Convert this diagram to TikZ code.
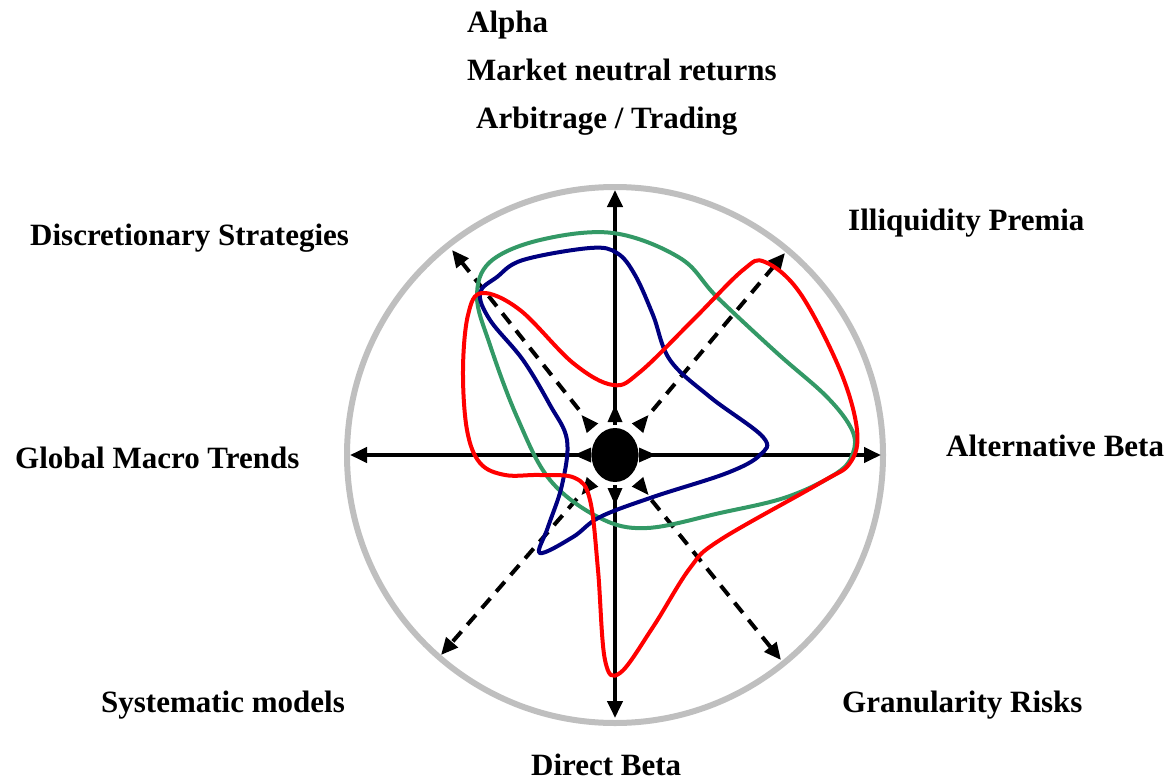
\documentclass[tikz,border=0pt]{standalone}
\usepackage{fontspec}
\setmainfont{Liberation Serif}
\usetikzlibrary{calc,arrows.meta}
\definecolor{ringgray}{RGB}{191,191,191}
\definecolor{stratgreen}{RGB}{51,153,102}
\definecolor{stratblue}{RGB}{0,0,128}
\definecolor{stratred}{RGB}{255,0,0}
\tikzset{
	axisarrow/.style={line width=4pt,-{Triangle[length=17pt,width=15pt]}},
	diagarrow/.style={axisarrow,dash pattern=on 13pt off 9pt},
	stratline/.style={line width=4pt},
	lbl/.style={font=\fontsize{31}{37}\selectfont\bfseries,anchor=base west,inner sep=0pt}
}

\begin{document}
\begin{tikzpicture}[x=1pt,y=-1pt]
		%%%%% START %%%%%
		\useasboundingbox (0,0) rectangle (1168,782);
		
		\coordinate (c) at (615,455);
		\coordinate (top) at (615,190);
		\coordinate (bottom) at (615,718);
		\coordinate (left) at (350,455);
		\coordinate (right) at (881,455);
		\coordinate (tl) at (452,250);
		\coordinate (tr) at (785,253);
		\coordinate (bl) at (441,655);
		\coordinate (br) at (781,660);
		
		\draw[ringgray, line width=6pt] (c) circle (268pt);
		
		\draw[axisarrow] (c) -- (top);
		\draw[axisarrow] (c) -- (bottom);
		\draw[axisarrow] (c) -- (left);
		\draw[axisarrow] (c) -- (right);
		
		\draw[diagarrow] ($(c)!58pt!(tl)$) -- (tl);
		\draw[diagarrow] ($(c)!58pt!(tr)$) -- (tr);
		\draw[diagarrow] ($(c)!58pt!(bl)$) -- (bl);
		\draw[diagarrow] ($(c)!58pt!(br)$) -- (br);
		
		% centre burst
		\draw[white, line width=3pt] (c) ellipse (25pt and 28.5pt);
		\fill (c) ellipse (23.5pt and 27pt);
		\foreach \a/\rb/\rt in {0/24/41, 50/35/52, 90/33/50, 130/35/52, 180/24/41, 230/35/52, 270/33/50, 310/35/52}
			\fill ($(c)+(\a:\rt pt)$) -- ($(c)+(\a:\rb pt)+(\a+90:7.5pt)$) -- ($(c)+(\a:\rb pt)+(\a-90:7.5pt)$) -- cycle;
		
		\draw[stratline, stratgreen] plot[smooth cycle, tension=0.6] coordinates {(613,233) (680,258) (717,297) (777,353) (827,397) (852,430) (853,453) (837,473) (787,497) (720,513) (647,528) (600,518) (550,480) (517,417) (490,345) (477,297) (490,262) (540,240)};
		
		\draw[stratline, stratblue] plot[smooth cycle, tension=0.6] coordinates {(480,293) (497,277) (523,260) (590,248) (617,253) (635,275) (653,315) (670,360) (710,397) (763,437) (760,455) (727,473) (653,497) (600,517) (573,537) (540,553) (548,527) (562,485) (567,440) (550,405) (523,360) (490,320)};
		
		\draw[stratline, stratred] plot[smooth cycle, tension=0.6] coordinates {(482,293) (520,310) (573,363) (613,385) (640,372) (693,320) (743,270) (765,262) (800,293) (840,370) (857,430) (850,463) (820,483) (720,540) (690,568) (653,627) (620,673) (605,660) (598,570) (590,500) (575,478) (540,475) (505,475) (480,463) (467,430) (463,370) (468,315)};
		
		\node[lbl] (alpha) at (467,32) {Alpha};
		\node[lbl] (neutral) at (467,80) {Market neutral returns};
		\node[lbl] (arbitrage) at (476,128) {Arbitrage / Trading};
		\node[lbl] (discretionary) at (30,245) {Discretionary Strategies};
		\node[lbl] (illiquidity) at (848,230) {Illiquidity Premia};
		\node[lbl] (macro) at (15,468) {Global Macro Trends};
		\node[lbl] (altbeta) at (946,456) {Alternative Beta};
		\node[lbl] (systematic) at (101,712) {Systematic models};
		\node[lbl] (granularity) at (842,712) {Granularity Risks};
		\node[lbl] (directbeta) at (531,775) {Direct Beta};
		
		%%%%% END %%%%%
\end{tikzpicture}
\end{document}
